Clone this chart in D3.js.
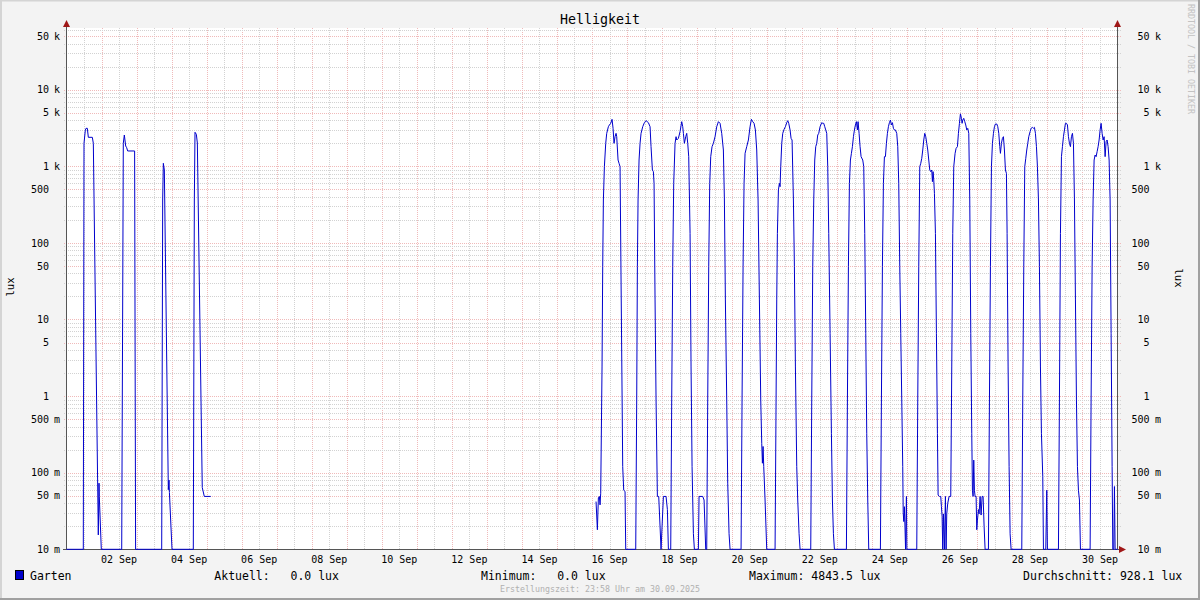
<!DOCTYPE html>
<html><head><meta charset="utf-8">
<script src="https://cdn.jsdelivr.net/npm/d3@7"></script>
<style>
html,body{margin:0;padding:0;background:#f3f3f3;}
svg{display:block;}
text{font-family:"DejaVu Sans Mono",monospace;}
</style></head><body>
<svg id="chart" width="1200" height="600"></svg>
<script>
// ---------- data ----------
const chartTitle = "Helligkeit";
const seriesName = "Garten";
const unitLabel = "lux";
const footerText = "Erstellungszeit: 23:58 Uhr am 30.09.2025";
const watermark = "RRDTOOL / TOBI OETIKER";
const yTickValues = [0.01, 0.05, 0.1, 0.5, 1, 5, 10, 50, 100, 500, 1000, 5000, 10000, 50000];
const yTickLabels = ["10 m", "50 m", "100 m", "500 m", "1", "5", "10", "50", "100", "500", "1 k", "5 k", "10 k", "50 k"];
const xTickLabels = ["02 Sep", "04 Sep", "06 Sep", "08 Sep", "10 Sep", "12 Sep", "14 Sep", "16 Sep",
                     "18 Sep", "20 Sep", "22 Sep", "24 Sep", "26 Sep", "28 Sep", "30 Sep"];
const legendLabels = ["Aktuell:", "Minimum:", "Maximum:", "Durchschnitt:"];
const legendValues = [0.0, 0.0, 4843.5, 928.1];

// samples: [hours since 01 Sep 00:00, lux]; null = no data
const gartenSamples = [
  [0,0],[11.51,0],[11.99,1995],[12.9,2981],[13.36,3131],[14.27,3131],[14.96,2390],[17.7,2390],[18.38,1995],
  [21.79,0.0154],[22.27,0.073],[22.47,0.049],[23.84,0],
  [37.82,0],[38.92,2000],[39.62,2562],[40.54,1842],[41.22,1750],[41.91,1585],[46.66,1585],[47.34,0],
  [65.22,0],[65.89,363],[66.34,1094],[67.03,895],[69.75,0.06],[70.23,0.08],[70.5,0.055],[72.28,0],
  [86.87,0],[87.58,363],[88.04,2780],[88.95,2617],[89.64,2015],[93.0,0.064],[94.41,0.049],[98.8,0.049],
  [98.9,null],
  [362.77,0.042],[363.69,0.018],[364.37,0.047],[365.06,0.049],[365.51,0.038],[365.97,0.054],[366.88,2.4],
  [367.34,49],[367.8,363],[368.48,989],[369.4,1995],[370.08,2693],[371.22,3290],[371.91,3462],[372.82,3640],
  [373.73,4105],[374.42,3131],[375.1,1995],[375.79,2436],[376.48,2693],[376.93,2436],[377.85,1208],
  [378.53,1093],[379.22,989],[381.04,0.12],[381.73,0.059],[382.64,0.057],[383.1,0],
  [389.95,0],[390.63,0.89],[391.09,49],[391.55,363],[392.23,1208],[392.92,1995],[393.6,2693],[394.75,3290],
  [395.89,3715],[397.03,3942],[398.63,3715],[399.77,3290],[400.45,1805],[401.37,895],[402.05,851],[402.51,599],
  [403.2,18],[403.88,0.89],[404.79,0.049],[405.71,0.049],[407.31,0],[408.91,0.049],[410.73,0.049],[411.65,0.033],[412.33,0],
  [413.93,0],[414.61,0.89],[415.3,49],[415.98,599],[416.9,1995],[417.58,2436],[418.04,2204],[419.18,2317],
  [420.32,2833],[421.47,3826],[422.15,3290],[422.61,2693],[423.29,1995],[424.21,2436],[424.89,2693],[425.58,1995],
  [426.26,1336],[427.18,133],[427.86,2.4],[428.55,0.12],[429.46,0.016],[430.14,0],[432.88,0],[433.34,0.049],
  [435.85,0.049],[436.77,0.044],[437.91,0],
  [438.59,0],[439.28,0.89],[439.96,49],[440.65,599],[441.33,1336],[442.25,1805],[443.16,1995],[444.3,2436],
  [445.45,3290],[446.59,3826],[447.73,3640],[448.87,2693],[450.01,1632],[450.7,363],[451.38,18],[452.3,0.89],
  [452.98,0.073],[453.89,0.016],[454.58,0],
  [462.12,0],[462.8,0.89],[463.49,49],[464.17,599],[464.86,1476],[466.0,1805],[467.14,2204],[468.28,3290],
  [469.2,4105],[470.11,3826],[471.02,3640],[471.94,2981],[472.85,1632],[473.77,363],[474.68,18],[475.6,0.89],
  [476.28,0.242],[476.74,0.133],[477.19,0.22],[477.65,0.12],[478.56,0.044],[479.7,0],
  [485.42,0],[486.1,0.89],[486.56,18],[487.01,133],[487.7,491],[488.38,599],[488.84,542],[489.3,989],
  [489.98,1995],[490.67,2693],[491.58,3040],[492.5,3290],[493.41,3715],[494.09,3942],[494.78,3640],[495.69,2981],
  [496.38,2317],[497.06,2204],[497.98,363],[498.66,49],[499.35,2.4],[500.26,0.12],[500.95,0.044],[501.86,0.016],[502.54,0],
  [509.85,0],[510.54,0.89],[511.22,49],[511.91,363],[512.59,1208],[513.28,1805],[513.96,1995],[514.65,2562],
  [515.33,2693],[516.25,3290],[517.39,3715],[518.07,3640],[518.76,3640],[519.44,3290],[520.13,2981],[520.81,2693],
  [521.5,989],[522.18,133],[523.1,6.6],[524.01,0.327],[524.7,0.044],[525.38,0.016],[526.07,0],
  [534.29,0],[534.97,0.89],[535.66,49],[536.34,599],[537.03,1208],[537.71,1476],[538.4,1805],[539.09,2436],
  [539.77,2981],[540.46,3462],[541.14,3826],[541.83,2981],[542.28,3826],[542.97,2693],[543.65,1805],[544.34,1336],
  [545.48,1208],[546.16,989],[546.85,133],[547.54,6.6],[548.22,0.327],[548.91,0.044],[549.59,0],
  [557.58,0],[558.27,0.89],[558.95,49],[559.64,599],[560.32,1336],[561.01,1336],[561.69,1995],[562.38,2693],
  [563.06,3290],[563.75,3715],[564.44,4020],[565.12,3462],[565.81,3715],[566.49,3131],[567.18,2981],[567.86,2981],
  [568.77,2693],[569.46,1805],[570.14,599],[570.83,49],[571.52,6.6],[572.2,0.89],[572.88,0.12],[573.2,0.03],
  [573.6,0.023],[574.0,0.036],[574.4,0.02],[574.8,0],[575.4,0.049],[575.7,0],
  [582.48,0],[583.16,0.89],[583.85,49],[584.53,989],[585.22,1093],[585.9,1270],[586.59,1632],[587.27,2204],
  [587.96,2693],[588.65,2436],[589.33,1995],[590.02,1632],[590.7,1208],[591.39,895],[592.07,851],[592.76,895],
  [593.21,630],[593.67,851],[594.13,662],[594.58,444],[595.27,133],[595.95,6.6],[596.64,0.327],[597.1,0.051],
  [598.01,0.049],[598.92,0.049],[599.38,0.036],[599.84,0.027],[600.29,0],[600.75,0.029],[601.44,0],[602.12,0.049],
  [602.58,0],[603.03,0.029],[603.72,0.04],[604.63,0.049],[605.77,0.049],
  [606.46,2.4],[607.14,133],[607.83,989],[608.74,1476],[609.43,1715],[610.34,1805],[611.03,2693],[611.71,3640],
  [612.4,4843.5],[613.08,4230],[613.54,3640],[614.0,4020],[614.68,4230],[615.37,3826],[616.05,3462],[616.74,2981],
  [617.42,3131],[618.11,2693],[618.79,363],[619.48,6.6],[620.16,0.327],[620.62,0.059],[621.08,0.049],[621.53,0.146],
  [621.99,0.059],[622.45,0.049],[623.13,0.049],[623.59,0.018],[624.05,0.024],[624.73,0.033],[625.19,0.029],
  [625.87,0.049],[626.56,0.028],[627.24,0.049],[627.93,0.049],[628.61,0.02],[629.3,0],
  [631.58,0],[632.27,0.89],[632.95,49],[633.64,989],[634.32,1995],[635.01,2693],[635.69,3290],[636.38,3567],
  [637.29,3567],[637.98,3290],[638.66,2693],[639.35,1805],[639.8,1476],[640.49,1995],[641.17,2317],[641.86,2436],
  [642.54,1632],[643.23,895],[643.91,809],[644.37,133],[645.06,2.4],[645.74,0.12],[646.43,0.016],[647.11,0],
  [654.42,0],[655.1,0.89],[655.79,49],[656.47,989],[657.16,1270],[657.84,1632],[658.53,1995],[659.21,2436],
  [660.13,2833],[660.81,3131],[661.73,3226],[662.41,3131],[663.1,3226],[663.78,2693],[664.47,1805],[665.15,989],
  [665.84,363],[666.52,49],[667.21,2.4],[667.89,0.327],[668.81,0.089],[669.27,0],[670.86,0],[671.55,0.059],[672.0,0],
  [679.54,0],[680.22,0.89],[680.91,133],[681.6,1336],[682.28,1805],[682.97,2436],[683.65,2981],[684.34,3640],
  [685.02,3640],[685.71,3462],[686.39,2436],[687.08,1995],[687.76,1805],[688.45,2436],[689.13,2693],[689.82,1995],
  [690.5,363],[691.19,18],[691.88,0.89],[692.56,0.12],[693.25,0.059],[693.93,0.044],[694.62,0],
  [701.24,0],[701.92,0.89],[702.61,49],[703.29,363],[703.98,1208],[704.66,1404],[705.35,1336],[706.03,1552],
  [706.72,1805],[707.4,2204],[708.09,2981],[708.77,3640],[709.46,2693],[710.15,2204],[710.83,2436],[711.52,1336],
  [712.2,2097],[712.89,2204],[713.57,1805],[714.26,1208],[714.94,363],[715.63,6.6],[716.31,0.12],[716.77,0],
  [717.45,0],[717.91,0.066],[718.37,0],[720,0]
];

(function () {
// ---------- layout ----------
const W = 1200, H = 600;
const pLeft = 66.5, pRight = 1117.5, pTop = 28, pBottom = 549.3;
const t0 = Date.UTC(2025, 8, 1), t1 = Date.UTC(2025, 9, 1);
const toDate = h => new Date(t0 + h * 3600e3);

const svg = d3.select("#chart");
const x = d3.scaleUtc().domain([new Date(t0), new Date(t1)]).range([pLeft, pRight]);
const y = d3.scaleLog().domain([0.01, 1e5]).range([pBottom, pBottom - 7 * 76.6]);

// background + frame
svg.append("rect").attr("x", 0).attr("y", 0).attr("width", W).attr("height", H).attr("fill", "#f3f3f3");
svg.append("rect").attr("x", 0).attr("y", 0).attr("width", W).attr("height", 1.5).attr("fill", "#d4d4d4");
svg.append("rect").attr("x", 0).attr("y", 0).attr("width", 2).attr("height", H).attr("fill", "#d4d4d4");
svg.append("rect").attr("x", W - 2).attr("y", 0).attr("width", 2).attr("height", H).attr("fill", "#a0a0a0");
svg.append("rect").attr("x", 0).attr("y", H - 2).attr("width", W).attr("height", 2).attr("fill", "#a0a0a0");

// plot area
svg.append("rect").attr("x", pLeft).attr("y", pTop).attr("width", pRight - pLeft).attr("height", pBottom - pTop).attr("fill", "#ffffff");

const grid = svg.append("g").attr("shape-rendering", "crispEdges");
const minorCol = "#d2d2d2", majorCol = "#f0baba";

// vertical grid
const hours12 = d3.utcHour.every(12).range(new Date(t0 + 1), new Date(t1));
hours12.forEach(d => {
  const xx = Math.round(x(d)) + 0.5;
  const major = d.getUTCHours() === 0;
  grid.append("line").attr("x1", xx).attr("x2", xx).attr("y1", pTop).attr("y2", pBottom + 0.5)
    .attr("stroke", major ? majorCol : minorCol).attr("stroke-width", 1).attr("stroke-dasharray", "1,1");
});

// horizontal grid
const minorVals = [];
for (let e = -2; e <= 4; e++) for (const m of [2, 3, 4, 6, 7, 8, 9]) minorVals.push(m * Math.pow(10, e));
minorVals.filter(v => y(v) >= pTop).forEach(v => {
  const yy = Math.round(y(v)) + 0.5;
  grid.append("line").attr("x1", pLeft - 3).attr("x2", pRight + 3).attr("y1", yy).attr("y2", yy)
    .attr("stroke", minorCol).attr("stroke-dasharray", "1,1");
});
yTickValues.forEach(v => {
  const yy = Math.round(y(v)) + 0.5;
  grid.append("line").attr("x1", pLeft - 3).attr("x2", pRight + 3).attr("y1", yy).attr("y2", yy)
    .attr("stroke", majorCol).attr("stroke-dasharray", "1,1");
});

// axes
const axCol = "#555", arrowCol = "#a01818";
const ax = svg.append("g").attr("shape-rendering", "crispEdges");
ax.append("line").attr("x1", 66.5).attr("x2", 66.5).attr("y1", pTop - 2).attr("y2", pBottom + 0.5).attr("stroke", axCol);
ax.append("line").attr("x1", 1117.5).attr("x2", 1117.5).attr("y1", pTop - 2).attr("y2", pBottom + 0.5).attr("stroke", axCol);
ax.append("line").attr("x1", 63).attr("x2", 1120).attr("y1", 549.5).attr("y2", 549.5).attr("stroke", axCol);
svg.append("path").attr("d", "M63,27L70,27L66.5,20Z").attr("fill", arrowCol);
svg.append("path").attr("d", "M1114,27L1121,27L1117.5,20Z").attr("fill", arrowCol);
svg.append("path").attr("d", "M1119,546L1119,553L1126,549.5Z").attr("fill", arrowCol);

// series line
const line = d3.line()
  .defined(d => d[1] !== null)
  .x(d => x(toDate(d[0])))
  .y(d => y(Math.max(d[1], 0.01)));
svg.append("path").datum(gartenSamples).attr("d", line)
  .attr("fill", "none").attr("stroke", "#0000cc").attr("stroke-width", 1).attr("stroke-linejoin", "round");

// y labels left & right
const lab = svg.append("g").attr("font-size", "10px").attr("fill", "#000");
yTickValues.forEach((v, i) => {
  const parts = yTickLabels[i].split(" ");
  const yy = y(v) + 3.6;
  lab.append("text").attr("x", 49).attr("y", yy).attr("text-anchor", "end").text(parts[0]);
  lab.append("text").attr("x", 1149.5).attr("y", yy).attr("text-anchor", "end").text(parts[0]);
  if (parts[1]) {
    lab.append("text").attr("x", 54).attr("y", yy).text(parts[1]);
    lab.append("text").attr("x", 1155).attr("y", yy).text(parts[1]);
  }
});

// x labels
xTickLabels.forEach(s => {
  const d = new Date(Date.UTC(2025, 8, +s.slice(0, 2), 12));
  lab.append("text").attr("x", x(d)).attr("y", 562.5).attr("text-anchor", "middle").text(s);
});

// title
svg.append("text").attr("x", 600).attr("y", 23.5).attr("text-anchor", "middle")
  .attr("font-size", "13.3px").attr("fill", "#000").text(chartTitle);

// unit labels
svg.append("text").attr("transform", "translate(10,287) rotate(-90)").attr("text-anchor", "middle")
  .attr("dominant-baseline", "central").attr("font-size", "10.5px").text(unitLabel);
svg.append("text").attr("transform", "translate(1178.5,278) rotate(90)").attr("text-anchor", "middle")
  .attr("dominant-baseline", "central").attr("font-size", "10.5px").text(unitLabel);

// watermark
svg.append("text").attr("transform", "translate(1187.5,4) rotate(90)").attr("text-anchor", "start")
  .attr("font-size", "8.3px").attr("fill", "#c2c2c2").text(watermark);

// legend
svg.append("rect").attr("x", 15.5).attr("y", 570.5).attr("width", 8).attr("height", 9)
  .attr("fill", "#0000cc").attr("stroke", "#000").attr("stroke-width", 1);
const lg = svg.append("g").attr("font-size", "11.5px").attr("fill", "#000");
lg.append("text").attr("x", 30).attr("y", 579.5).text(seriesName);
const legendX = [214.3, 481, 749, 1023];
legendLabels.forEach((l, i) => {
  lg.append("text").attr("x", legendX[i]).attr("y", 579.5).attr("xml:space", "preserve")
    .style("white-space", "pre")
    .text(l + " " + legendValues[i].toFixed(1).padStart(5, " ") + " " + unitLabel);
});

// footer
svg.append("text").attr("x", 600).attr("y", 592).attr("text-anchor", "middle")
  .attr("font-size", "8.3px").attr("fill", "#b0b0b0").text(footerText);
})();
</script>
</body></html>
